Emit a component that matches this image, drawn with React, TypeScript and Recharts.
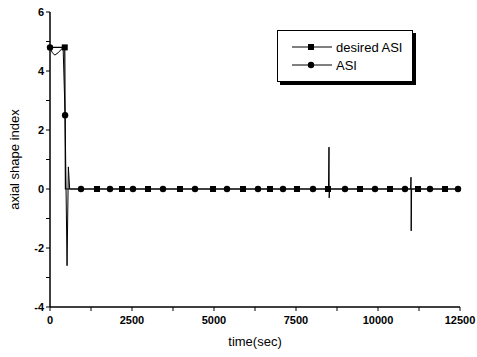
import { LineChart, Line, XAxis, YAxis, Legend } from "recharts";

// desired ASI: line breakpoints and marker times
const desiredT = [0, 450, 470, 12500];
const desiredV = [4.8, 4.8, 0, 0];
const desiredMarks = [450, 1433, 2195, 2988, 3963, 4970, 5884, 6707, 7530, 8475, 9451, 10366, 11220, 12043];

// measured ASI: line breakpoints (incl. spikes) and marker times
const asiT = [0, 70, 150, 250, 400, 460, 520, 560, 600, 8490, 8506, 8512, 8525, 10995, 11006, 11012, 11025, 12500];
const asiV = [4.8, 4.62, 4.54, 4.62, 4.8, 2.5, -2.6, 0.75, 0, 0, 1.42, -0.3, 0, 0, 0.4, -1.42, 0, 0];
const asiMarks = [0, 460, 945, 1829, 2530, 3445, 4421, 5396, 6341, 7104, 8018, 8994, 9909, 10823, 11585, 12439];

const xTicks = [0, 1250, 2500, 3750, 5000, 6250, 7500, 8750, 10000, 11250, 12500];
const yTicks = [-4, -3, -2, -1, 0, 1, 2, 3, 4, 5, 6];

type Pt = { t: number; v: number; m?: boolean };

function buildSeries(ts: number[], vs: number[], marks: number[]): Pt[] {
  const pts: Pt[] = ts.map((t, i) => ({ t, v: vs[i] }));
  for (const mt of marks) {
    const hit = pts.find((p) => p.t === mt);
    if (hit) {
      hit.m = true;
      continue;
    }
    // marker sits on the line at that time
    let v = 0;
    for (let i = 0; i < pts.length - 1; i++) {
      if (pts[i].t <= mt && pts[i + 1].t >= mt) {
        const a = pts[i], b = pts[i + 1];
        v = a.v + ((b.v - a.v) * (mt - a.t)) / (b.t - a.t || 1);
        break;
      }
    }
    pts.push({ t: mt, v, m: true });
  }
  return pts.sort((a, b) => a.t - b.t);
}

const desiredData = buildSeries(desiredT, desiredV, desiredMarks);
const asiData = buildSeries(asiT, asiV, asiMarks);

const FONT = "'Liberation Sans', Arial, sans-serif";

const squareDot = (props: any) => {
  const { cx, cy, payload, index } = props;
  if (!payload?.m) return <g key={`s${index}`} />;
  return <rect key={`s${index}`} x={cx - 3} y={cy - 3} width={6} height={6} fill="#000" />;
};

const circleDot = (props: any) => {
  const { cx, cy, payload, index } = props;
  if (!payload?.m) return <g key={`c${index}`} />;
  return <circle key={`c${index}`} cx={cx} cy={cy} r={3.2} fill="#000" />;
};

function LegendBox() {
  const row = (label: string, marker: "square" | "circle") => (
    <div style={{ display: "flex", alignItems: "center", height: 18 }}>
      <svg width={40} height={10} style={{ marginRight: 4 }}>
        <line x1={0} y1={5} x2={40} y2={5} stroke="#000" strokeWidth={1} />
        {marker === "square" ? (
          <rect x={16} y={2} width={6} height={6} fill="#000" />
        ) : (
          <circle cx={19} cy={5} r={3.2} fill="#000" />
        )}
      </svg>
      <span>{label}</span>
    </div>
  );
  return (
    <div
      style={{
        position: "absolute",
        left: 277,
        top: 30,
        width: 136,
        padding: "7px 0 7px 14px",
        boxSizing: "border-box",
        border: "1px solid #000",
        boxShadow: "3px 3px 0 #000",
        background: "#fff",
        fontFamily: FONT,
        fontSize: 13,
        color: "#000",
      }}
    >
      {row("desired ASI", "square")}
      {row("ASI", "circle")}
    </div>
  );
}

const tickStyle = { fontSize: 11, fontWeight: 700, fill: "#000", fontFamily: FONT };

export default function App() {
  return (
    <div style={{ position: "absolute", left: 0, top: 0, width: 477, height: 357, background: "#fff" }}>
      <LineChart width={477} height={357} margin={{ top: 12, right: 17, bottom: 0, left: 0 }}>
        <XAxis
          xAxisId="b"
          dataKey="t"
          type="number"
          domain={[0, 12500]}
          ticks={xTicks}
          interval={0}
          tickFormatter={(v: number) => (v % 2500 === 0 ? String(v) : "")}
          tick={tickStyle}
          tickSize={4}
          tickMargin={5}
          axisLine={{ stroke: "#000", strokeWidth: 1.5 }}
          tickLine={{ stroke: "#000" }}
          height={50}
          label={{ value: "time(sec)", position: "insideBottom", offset: 11, fontSize: 13, fill: "#000", fontFamily: FONT }}
        />
        <XAxis
          xAxisId="t"
          orientation="top"
          dataKey="t"
          type="number"
          domain={[0, 12500]}
          ticks={xTicks}
          tick={false}
          tickSize={3}
          axisLine={{ stroke: "#000", strokeWidth: 1.5 }}
          tickLine={{ stroke: "#000" }}
          height={0}
        />
        <YAxis
          yAxisId="l"
          type="number"
          domain={[-4, 6]}
          ticks={yTicks}
          interval={0}
          tickFormatter={(v: number) => (v % 2 === 0 ? String(v) : "")}
          tick={tickStyle}
          tickSize={4}
          axisLine={{ stroke: "#000", strokeWidth: 1.5 }}
          tickLine={{ stroke: "#000" }}
          width={50}
          label={{ value: "axial shape index", angle: -90, position: "insideLeft", offset: 14, fontSize: 13, fill: "#000", fontFamily: FONT, style: { textAnchor: "middle" } }}
        />
        <YAxis
          yAxisId="r"
          orientation="right"
          type="number"
          domain={[-4, 6]}
          ticks={yTicks}
          tick={false}
          tickSize={3}
          axisLine={{ stroke: "#000", strokeWidth: 1.5 }}
          tickLine={{ stroke: "#000" }}
          width={0}
        />
        <Line
          xAxisId="b"
          yAxisId="l"
          data={desiredData}
          dataKey="v"
          name="desired ASI"
          type="linear"
          stroke="#000"
          strokeWidth={1.2}
          dot={squareDot}
          activeDot={false}
          isAnimationActive={false}
        />
        <Line
          xAxisId="b"
          yAxisId="l"
          data={asiData}
          dataKey="v"
          name="ASI"
          type="linear"
          stroke="#000"
          strokeWidth={1}
          dot={circleDot}
          activeDot={false}
          isAnimationActive={false}
        />
        <Legend content={() => null} />
      </LineChart>
      <LegendBox />
    </div>
  );
}
